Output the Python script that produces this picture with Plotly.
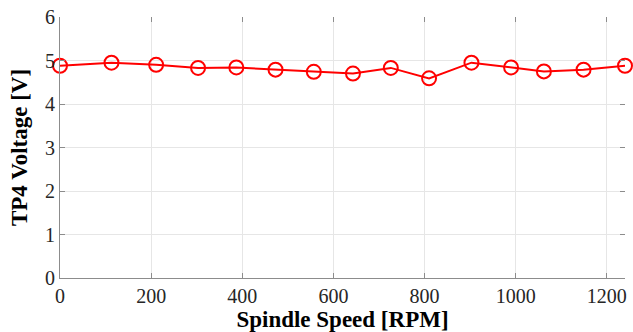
import plotly.graph_objects as go

speed = [0, 113, 211, 303, 387, 473, 557, 643, 726, 810, 903, 990, 1062, 1149, 1240]
voltage = [4.88, 4.95, 4.90, 4.83, 4.84, 4.79, 4.74, 4.70, 4.83, 4.59, 4.95, 4.84, 4.75, 4.79, 4.88]
x_ticks = [0, 200, 400, 600, 800, 1000, 1200]
y_ticks = [0, 1, 2, 3, 4, 5, 6]

font = "Liberation Serif, Times New Roman, serif"
axcol = "#8c8c8c"

fig = go.Figure()
fig.add_trace(go.Scatter(
    x=speed, y=voltage, mode="lines+markers",
    line=dict(color="#ff0000", width=2),
    marker=dict(symbol="circle-open", size=14, color="#ff0000", line=dict(width=2)),
    showlegend=False, cliponaxis=False,
))
# invisible trace to activate mirrored tick axes
fig.add_trace(go.Scatter(x=[None], y=[None], xaxis="x2", yaxis="y2", showlegend=False))

fig.update_layout(
    width=633, height=332,
    margin=dict(l=60, r=6, t=15, b=54),
    paper_bgcolor="white", plot_bgcolor="white",
    font=dict(family=font, size=20, color="#262626"),
    xaxis=dict(
        range=[0, 1240], tickvals=x_ticks, ticks="inside", ticklen=5, tickcolor=axcol,
        showline=True, linecolor=axcol, linewidth=1, showgrid=True, gridcolor="#e6e6e6",
        zeroline=False,
        title=dict(text="<b>Spindle Speed [RPM]</b>", font=dict(size=23, color="#000000"), standoff=0),
        tickfont=dict(size=20, color="#262626"),
    ),
    yaxis=dict(
        range=[0, 6], tickvals=y_ticks, ticks="inside", ticklen=5, tickcolor=axcol,
        showline=True, linecolor=axcol, linewidth=1, showgrid=True, gridcolor="#e6e6e6",
        zeroline=False,
        title=dict(text="<b>TP4 Voltage [V]</b>", font=dict(size=23, color="#000000"), standoff=10),
        tickfont=dict(size=20, color="#262626"),
    ),
    xaxis2=dict(
        overlaying="x", side="top", matches="x", range=[0, 1240], tickvals=x_ticks,
        ticks="inside", ticklen=5, tickcolor=axcol, showticklabels=False,
        showgrid=False, showline=False, zeroline=False,
    ),
    yaxis2=dict(
        overlaying="y", side="right", range=[0, 6], tickvals=y_ticks,
        ticks="inside", ticklen=5, tickcolor=axcol, showticklabels=False,
        showgrid=False, showline=False, zeroline=False,
    ),
)

fig.write_html("out.html")
